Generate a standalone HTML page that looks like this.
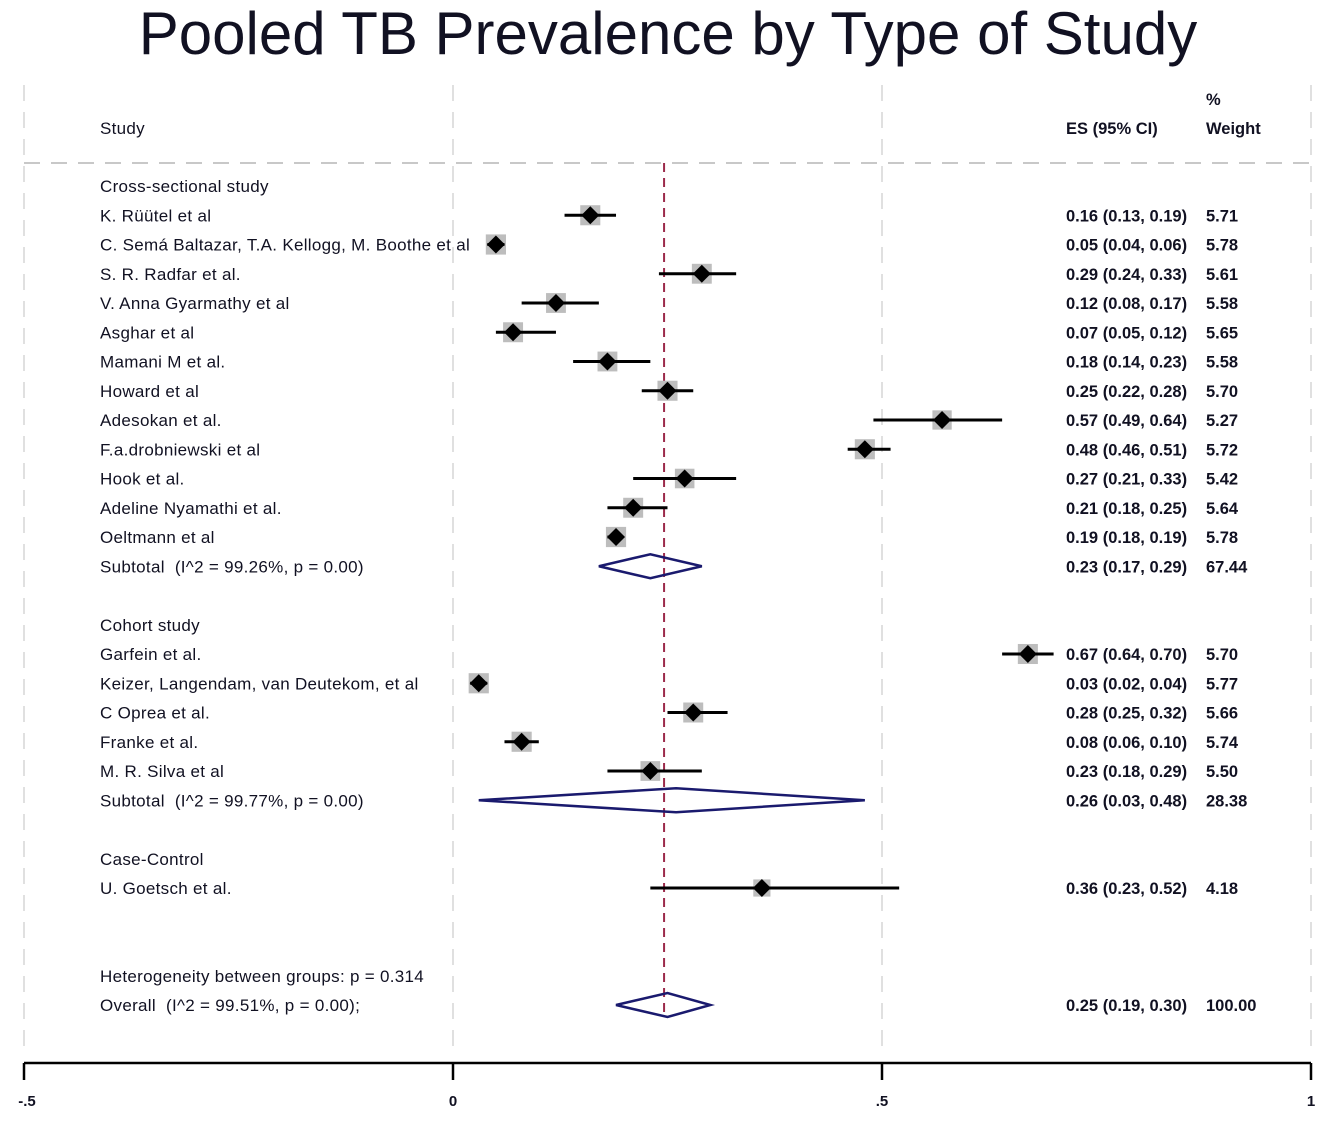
<!DOCTYPE html>
<html><head><meta charset="utf-8"><style>
body{margin:0;background:#fff;}
svg text{font-family:"Liberation Sans",Arial,sans-serif;fill:#111122;white-space:pre;}
.lab{font-size:17px;letter-spacing:0.3px;}
.num{font-size:16.5px;font-weight:bold;}
</style></head><body>
<svg id="chart" width="1325" height="1119" viewBox="0 0 1325 1119" xmlns="http://www.w3.org/2000/svg">
<rect width="1325" height="1119" fill="#fff"/>
<text x="668" y="54" text-anchor="middle" font-size="60">Pooled TB Prevalence by Type of Study</text>
<g id="grid"></g>
<text class="lab" x="100" y="134">Study</text>
<text class="num" x="1066" y="134">ES (95% CI)</text>
<text class="num" x="1206" y="105">%</text>
<text class="num" x="1206" y="134">Weight</text>
<line x1="24" y1="163" x2="1311" y2="163" stroke="#c8c8c8" stroke-width="2" stroke-dasharray="16,11"/>
<g id="rows"></g>
<g id="axis"></g>
</svg>
<script>
const labels=["K. Rüütel et al","C. Semá Baltazar, T.A. Kellogg, M. Boothe et al","S. R. Radfar et al.","V. Anna Gyarmathy et al","Asghar et al","Mamani M et al.","Howard et al","Adesokan et al.","F.a.drobniewski et al","Hook et al.","Adeline Nyamathi et al.","Oeltmann et al","Garfein et al.","Keizer, Langendam, van Deutekom, et al","C Oprea et al.","Franke et al.","M. R. Silva et al","U. Goetsch et al."];
const es=[0.16,0.05,0.29,0.12,0.07,0.18,0.25,0.57,0.48,0.27,0.21,0.19,0.67,0.03,0.28,0.08,0.23,0.36];
const lo=[0.13,0.04,0.24,0.08,0.05,0.14,0.22,0.49,0.46,0.21,0.18,0.18,0.64,0.02,0.25,0.06,0.18,0.23];
const hi=[0.19,0.06,0.33,0.17,0.12,0.23,0.28,0.64,0.51,0.33,0.25,0.19,0.70,0.04,0.32,0.10,0.29,0.52];
const wt=[5.71,5.78,5.61,5.58,5.65,5.58,5.70,5.27,5.72,5.42,5.64,5.78,5.70,5.77,5.66,5.74,5.50,4.18];
const rowIdx=[1,2,3,4,5,6,7,8,9,10,11,12,16,17,18,19,20,24];
const groupLabels=["Cross-sectional study","Cohort study","Case-Control"];
const groupRows=[0,15,23];
const subLabels=["Subtotal  (I^2 = 99.26%, p = 0.00)","Subtotal  (I^2 = 99.77%, p = 0.00)","Overall  (I^2 = 99.51%, p = 0.00);"];
const subEs=[0.23,0.26,0.25];
const subLo=[0.17,0.03,0.19];
const subHi=[0.29,0.48,0.30];
const subWt=["67.44","28.38","100.00"];
const subRows=[13,21,28];
const overallEs=0.246;
const ticks=[-0.5,0,0.5,1];
const tickLabels=["-.5","0",".5","1"];
const NS="http://www.w3.org/2000/svg";
const X=v=>453+v*858;
const Y=r=>186+r*29.25;
const f2=v=>v.toFixed(2);
function mk(tag,attrs,parent,txt){const e=document.createElementNS(NS,tag);for(const k in attrs)e.setAttribute(k,attrs[k]);if(txt!==undefined)e.textContent=txt;parent.appendChild(e);return e;}
const grid=document.getElementById('grid'),rows=document.getElementById('rows'),axis=document.getElementById('axis');
ticks.forEach((t,i)=>{const l=mk('line',{x1:X(t),y1:85,x2:X(t),y2:1055,stroke:'#e0e0e0','stroke-width':2,'stroke-dasharray':'16,11'},grid);

});
const ov=mk('line',{x1:X(overallEs),y1:163,x2:X(overallEs),y2:1018,stroke:'#9b2a4a','stroke-width':2,'stroke-dasharray':'9,6'},rows);


groupLabels.forEach((g,i)=>{const t=mk('text',{x:100,y:Y(groupRows[i])+6,class:'lab'},rows,g);

});
const het=mk('text',{x:100,y:Y(27)+6,class:'lab'},rows,'Heterogeneity between groups: p = 0.314');


labels.forEach((lab,i)=>{const y=Y(rowIdx[i]);
const g=mk('g',{},rows);


mk('text',{x:100,y:y+6,class:'lab'},g,lab);
mk('text',{x:1066,y:y+6,class:'num'},g,f2(es[i])+' ('+f2(lo[i])+', '+f2(hi[i])+')');
mk('text',{x:1206,y:y+6,class:'num'},g,wt[i].toFixed(2));
const s=Math.sqrt(wt[i])*8.4;
const b=mk('rect',{x:X(es[i])-s/2,y:y-s/2,width:s,height:s,fill:'#bdbdbd'},g);


const ci=mk('line',{x1:X(lo[i]),y1:y,x2:X(hi[i]),y2:y,stroke:'#000','stroke-width':3},g);


const d=mk('polygon',{points:`${X(es[i])-9},${y} ${X(es[i])},${y-9} ${X(es[i])+9},${y} ${X(es[i])},${y+9}`,fill:'#000'},g);

});
subLabels.forEach((lab,i)=>{const y=Y(subRows[i]);
const g=mk('g',{},rows);


mk('text',{x:100,y:y+6,class:'lab'},g,lab);
mk('text',{x:1066,y:y+6,class:'num'},g,f2(subEs[i])+' ('+f2(subLo[i])+', '+f2(subHi[i])+')');
mk('text',{x:1206,y:y+6,class:'num'},g,subWt[i]);
const d=mk('polygon',{points:`${X(subLo[i])},${y} ${X(subEs[i])},${y-12} ${X(subHi[i])},${y} ${X(subEs[i])},${y+12}`,fill:'none',stroke:'#1a1a6e','stroke-width':2.5},g);

});
const al=mk('line',{x1:X(-0.5),y1:1063,x2:X(1),y2:1063,stroke:'#000','stroke-width':2.5},axis);


ticks.forEach((t,i)=>{const tl=mk('line',{x1:X(t),y1:1063,x2:X(t),y2:1080,stroke:'#000','stroke-width':2.5},axis);


const tx=mk('text',{x:X(t)+(i==0?3:0),y:1106,'font-size':15,'font-weight':'bold','text-anchor':'middle'},axis,tickLabels[i]);

});
</script>
</body></html>
